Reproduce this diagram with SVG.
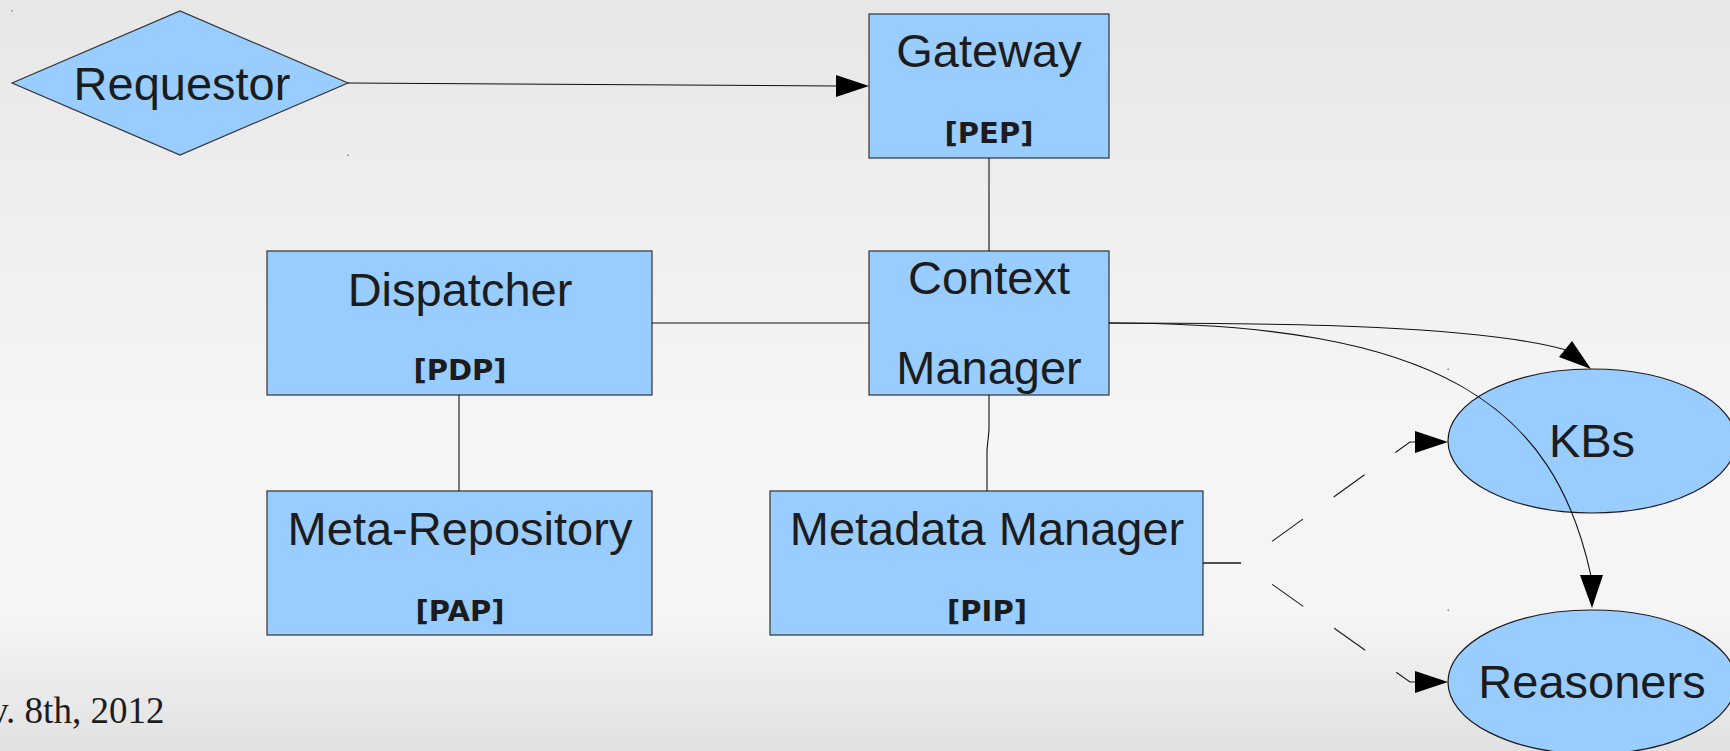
<svg xmlns="http://www.w3.org/2000/svg" width="1730" height="751" viewBox="0 0 1730 751">
  <defs>
    <linearGradient id="bg" x1="0" y1="0" x2="0" y2="1">
      <stop offset="0" stop-color="#e7e7e7"/>
      <stop offset="0.55" stop-color="#f5f5f5"/>
      <stop offset="0.82" stop-color="#f5f5f5"/>
      <stop offset="0.93" stop-color="#e9e9e9"/>
      <stop offset="1" stop-color="#e1e1e1"/>
    </linearGradient>
    <style>
      .box { fill: #99ccff; stroke: #333333; stroke-width: 1.2; }
      .oval { fill: #99ccff; stroke: #1a1a1a; stroke-width: 1.2; }
      .label { font-family: "Liberation Sans", Arial, sans-serif; font-size: 47px; fill: #1c1c1c; text-anchor: middle; }
      .tag { font-family: "DejaVu Sans", sans-serif; font-weight: bold; font-size: 29px; fill: #1c1c1c; text-anchor: middle; }
      .link { fill: none; stroke: #111111; stroke-width: 1.1; }
      .dash { fill: none; stroke: #1a1a1a; stroke-width: 1.1; stroke-dasharray: 38 38; }
      .head { fill: #000000; stroke: none; }
      .handle { fill: #8a8a8a; }
      .date { font-family: "Liberation Serif", "Times New Roman", serif; font-size: 37px; fill: #1c1c1c; }
    </style>
  </defs>

  <!-- page background -->
  <rect x="0" y="0" width="1730" height="751" fill="url(#bg)"/>

  <!-- Requestor -->
  <g id="requestor">
    <polygon class="box" points="12,83 180,11 348,83 180,155"/>
    <text class="label" x="182" y="100">Requestor</text>
    <rect class="handle" x="11" y="10" width="1.5" height="1.5"/>
    <rect class="handle" x="347.5" y="154.5" width="1.5" height="1.5"/>
  </g>

  <!-- Gateway -->
  <g id="gateway">
    <rect class="box" x="869" y="14" width="240" height="144"/>
    <text class="label" x="989" y="67">Gateway</text>
    <text class="tag" x="989" y="143">[PEP]</text>
  </g>

  <!-- Dispatcher -->
  <g id="dispatcher">
    <rect class="box" x="267" y="251" width="385" height="144"/>
    <text class="label" x="460" y="306">Dispatcher</text>
    <text class="tag" x="460" y="380">[PDP]</text>
  </g>

  <!-- Context Manager -->
  <g id="context-manager">
    <rect class="box" x="869" y="251" width="240" height="144"/>
    <text class="label" x="989" y="294">Context</text>
    <text class="label" x="989" y="384">Manager</text>
  </g>

  <!-- Meta-Repository -->
  <g id="meta-repository">
    <rect class="box" x="267" y="491" width="385" height="144"/>
    <text class="label" x="460" y="545">Meta-Repository</text>
    <text class="tag" x="460" y="621">[PAP]</text>
  </g>

  <!-- Metadata Manager -->
  <g id="metadata-manager">
    <rect class="box" x="770" y="491" width="433" height="144"/>
    <text class="label" x="987" y="545">Metadata Manager</text>
    <text class="tag" x="987" y="621">[PIP]</text>
  </g>

  <!-- KBs -->
  <g id="kbs">
    <ellipse class="oval" cx="1592" cy="441" rx="144" ry="72"/>
    <text class="label" x="1592" y="457">KBs</text>
    <rect class="handle" x="1447.5" y="368.5" width="1.5" height="1.5"/>
  </g>

  <!-- Reasoners -->
  <g id="reasoners">
    <ellipse class="oval" cx="1592" cy="682" rx="144" ry="72"/>
    <text class="label" x="1592" y="698">Reasoners</text>
    <rect class="handle" x="1447.5" y="609.5" width="1.5" height="1.5"/>
  </g>

  <!-- connectors, drawn over the nodes so the Reasoners curve crosses KBs -->
  <g id="connectors">
    <line class="link" x1="348" y1="83" x2="837" y2="86"/>
    <polygon class="head" points="869,86 836,75 836,97"/>

    <line class="link" x1="989" y1="158" x2="989" y2="251"/>
    <line class="link" x1="652" y1="323" x2="869" y2="323"/>
    <line class="link" x1="459" y1="395" x2="459" y2="491"/>
    <polyline class="link" points="989,395 989,430 987,450 987,491"/>

    <path class="link" d="M1109,323 C1300,323 1480,326 1566,350"/>
    <polygon class="head" points="1591,369 1559,357 1572,341"/>

    <path class="link" d="M1109,323 C1439,323 1554,405 1591,576"/>
    <polygon class="head" points="1592,608 1580,575 1603,575"/>

    <path class="dash" d="M1203,563 H1242 L1410,442 H1416"/>
    <polygon class="head" points="1448,442 1415,431 1415,453"/>

    <path class="dash" d="M1203,563 H1242 L1410,682 H1416"/>
    <polygon class="head" points="1448,682 1415,671 1415,693"/>
  </g>

  <!-- footer date -->
  <text class="date" x="-10" y="723">v. 8th, 2012</text>
</svg>
